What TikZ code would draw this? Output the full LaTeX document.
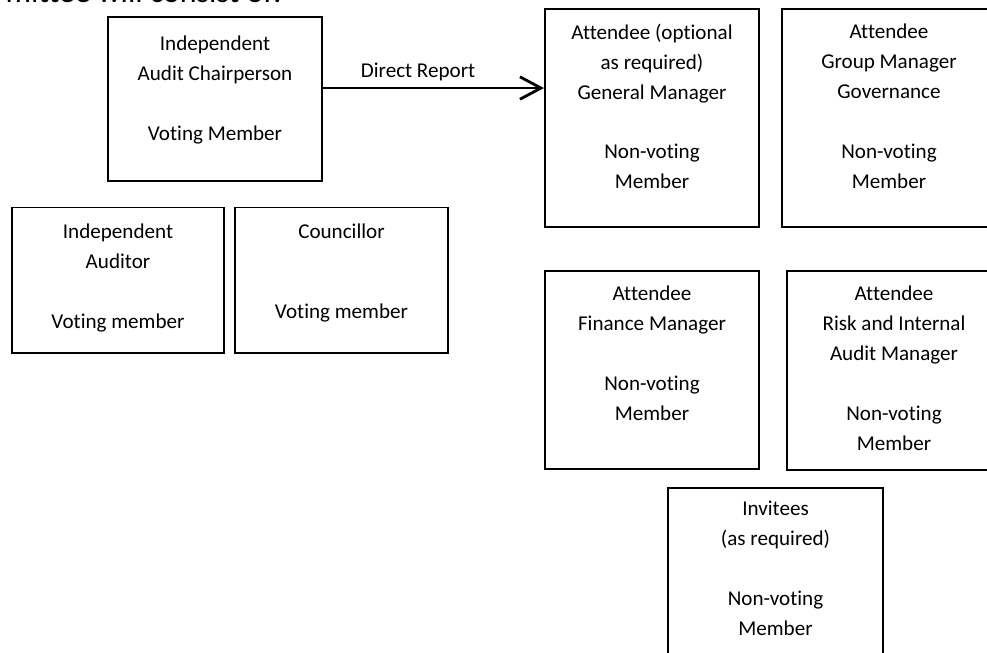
\documentclass[tikz,border=0pt]{standalone}
\usepackage{fontspec}
\setmainfont{Carlito}[Ligatures=CommonOff]
\usetikzlibrary{positioning,arrows.meta}

\newcommand{\pxs}{0.7113pt}
\newcommand{\gap}{21.3pt}

\tikzset{
    box/.style={draw, line width=1.4pt, inner sep=0pt, minimum width=214*\pxs},
    txt/.style={align=center, inner sep=0pt, font=\fontsize{15}{21.3}\selectfont},
    report/.style={line width=2pt, -{Straight Barb[length=15pt, width=16pt]}},
}

\begin{document}
\begin{tikzpicture}[x=0.025cm, y=-0.025cm]
        \clip (0, 0) rectangle (987, 652);

        % heading, cut off at the top
        \node[anchor=base east, inner sep=0pt, font=\fontsize{22.7}{27}\selectfont] (head) at (282, 2) {mittee will consist of:};

        % voting members
        \node[box, minimum height=164*\pxs] (chair) at (215, 99) {};
        \node[txt, below=14pt of chair.north] {Independent\\Audit Chairperson\\[\gap]Voting Member};

        \node[box, minimum width=212*\pxs, minimum height=145*\pxs] (auditor) at (118, 280) {};
        \node[txt, below=12pt of auditor.north] {Independent\\Auditor\\[\gap]Voting member};

        \node[box, minimum width=213*\pxs, minimum height=145*\pxs] (councillor) at (341.5, 280) {};
        \node[txt, below=12pt of councillor.north] {Councillor\\[35.6pt]Voting member};

        % attendees
        \node[box, minimum height=218*\pxs] (gm) at (652, 118) {};
        \node[txt, below=11pt of gm.north] {Attendee (optional\\as required)\\General Manager\\[\gap]Non-voting\\Member};

        \node[box, minimum height=218*\pxs] (gov) at (889, 118) {};
        \node[txt, below=11pt of gov.north] {Attendee\\Group Manager\\Governance\\[\gap]Non-voting\\Member};

        \node[box, minimum height=198*\pxs] (finance) at (652, 370) {};
        \node[txt, below=11pt of finance.north] {Attendee\\Finance Manager\\[\gap]Non-voting\\Member};

        \node[box, minimum height=199*\pxs] (risk) at (894, 370.5) {};
        \node[txt, below=11pt of risk.north] {Attendee\\Risk and Internal\\Audit Manager\\[\gap]Non-voting\\Member};

        \node[box, minimum width=215*\pxs, minimum height=212*\pxs] (invitees) at (775.5, 594) {};
        \node[txt, below=10pt of invitees.north] {Invitees\\(as required)\\[\gap]Non-voting\\Member};

        % reporting line
        \coordinate (rep) at ([yshift=7.8pt]chair.east);
        \draw[report] (rep) -- (rep -| gm.west) node[pos=0.43, above=4pt, txt] {Direct Report};

    \end{tikzpicture}
\end{document}
